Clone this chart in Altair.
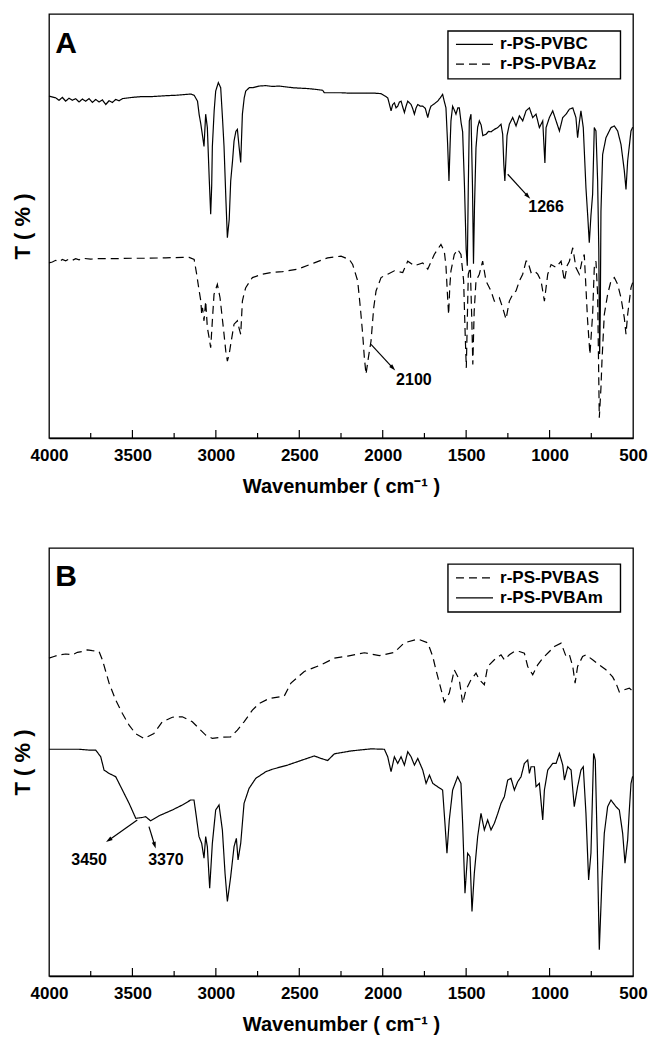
import altair as alt
import pandas as pd

# ---------------- Panel A : r-PS-PVBC (solid) ----------------
PVBC_WN = [4000, 3960, 3940, 3920, 3900, 3880, 3860, 3840, 3820, 3800, 3780, 3760, 3740, 3720,
           3700, 3680, 3660, 3640, 3620, 3600, 3580, 3560, 3500, 3440, 3380, 3300, 3240, 3180,
           3150, 3130, 3110, 3100, 3090, 3080, 3071, 3061, 3051, 3040, 3031, 3025, 3021, 3010,
           3001, 2990, 2985, 2971, 2960, 2951, 2940, 2931, 2920, 2911, 2900, 2891, 2880, 2871,
           2861, 2851, 2841, 2830, 2821, 2800, 2781, 2740, 2700, 2660, 2622, 2580, 2540, 2500,
           2450, 2400, 2360, 2350, 2300, 2250, 2200, 2150, 2100, 2050, 2010, 1990, 1970, 1960,
           1950, 1940, 1930, 1920, 1910, 1900, 1890, 1880, 1870, 1860, 1850, 1840, 1830, 1820,
           1810, 1800, 1790, 1775, 1760, 1745, 1730, 1720, 1711, 1690, 1671, 1655, 1641, 1630,
           1621, 1611, 1603, 1596, 1591, 1581, 1570, 1561, 1550, 1541, 1530, 1521, 1510, 1500,
           1493, 1487, 1481, 1471, 1462, 1456, 1450, 1441, 1431, 1421, 1410, 1400, 1381, 1366,
           1351, 1330, 1311, 1291, 1281, 1274, 1268, 1262, 1255, 1241, 1221, 1201, 1181, 1161,
           1141, 1121, 1101, 1081, 1061, 1041, 1034, 1028, 1021, 1001, 981, 961, 941, 921, 901,
           881, 861, 842, 832, 822, 812, 798, 782, 770, 762, 752, 742, 732, 722, 712, 705, 700,
           696, 692, 682, 662, 632, 612, 592, 572, 552, 542, 532, 512, 502]
PVBC_T = [81.4, 81.0, 80.4, 81.1, 80.2, 80.9, 80.4, 80.8, 80.0, 80.7, 80.2, 80.8, 79.9, 80.6,
          80.0, 80.5, 79.4, 80.3, 79.9, 80.6, 80.3, 80.8, 81.1, 81.3, 81.3, 81.5, 81.6, 81.8,
          81.9, 81.6, 80.2, 77.0, 74.7, 72.0, 69.4, 77.1, 73.9, 62.0, 53.3, 60.0, 69.4, 78.0,
          82.6, 84.0, 84.6, 83.4, 76.0, 69.4, 57.0, 47.7, 52.0, 61.2, 66.0, 70.7, 73.0, 73.5,
          69.4, 65.6, 77.1, 81.0, 82.6, 83.4, 83.4, 83.8, 83.9, 83.7, 83.8, 83.6, 83.4, 83.3,
          83.2, 83.0, 82.8, 82.2, 82.2, 82.2, 82.1, 82.1, 82.1, 82.1, 82.0, 81.5, 81.0, 79.5,
          77.9, 79.4, 79.8, 78.6, 79.0, 80.0, 80.2, 78.8, 77.5, 79.0, 80.2, 79.8, 79.4, 78.4,
          77.1, 78.6, 79.4, 79.0, 79.0, 78.5, 76.3, 78.0, 79.0, 79.6, 80.2, 81.0, 81.8, 80.0,
          78.6, 70.0, 61.2, 70.0, 75.5, 79.0, 78.0, 77.1, 78.6, 78.6, 75.0, 72.9, 60.0, 45.0,
          41.0, 60.0, 75.5, 77.1, 60.0, 41.5, 55.0, 69.1, 74.0, 75.5, 74.5, 72.0, 72.3, 73.0,
          72.9, 73.5, 73.9, 74.7, 72.3, 65.0, 61.2, 66.0, 72.0, 74.7, 76.3, 74.3, 76.7, 75.5,
          77.9, 78.6, 76.3, 77.1, 73.9, 75.5, 70.0, 65.5, 73.9, 76.3, 77.9, 75.5, 73.1, 76.3, 77.1,
          78.3, 78.6, 76.3, 71.5, 75.0, 77.9, 73.9, 59.6, 52.0, 46.5, 53.0, 58.0, 73.9, 73.1, 61.2,
          45.0, 20.0, 30.0, 54.0, 67.5, 71.5, 73.9, 74.3, 73.1, 69.9, 63.6, 59.2, 66.0, 73.1, 74.0]

# ---------------- Panel A : r-PS-PVBAz (dashed) ----------------
PVBAZ_WN = [4000, 3980, 3960, 3940, 3920, 3900, 3880, 3860, 3840, 3820, 3800, 3750, 3700, 3600,
            3500, 3400, 3300, 3200, 3160, 3130, 3115, 3100, 3090, 3085, 3080, 3071, 3061, 3051,
            3041, 3031, 3021, 3011, 2991, 2975, 2960, 2951, 2940, 2931, 2920, 2911, 2891, 2871,
            2860, 2851, 2841, 2830, 2821, 2781, 2720, 2670, 2600, 2510, 2410, 2330, 2250, 2200,
            2180, 2150, 2134, 2120, 2110, 2100, 2086, 2070, 2054, 2040, 2010, 1970, 1930, 1880,
            1850, 1810, 1760, 1730, 1691, 1651, 1631, 1621, 1611, 1605, 1598, 1591, 1571, 1551,
            1531, 1515, 1506, 1499, 1492, 1487, 1475, 1466, 1460, 1452, 1441, 1421, 1401, 1381,
            1351, 1331, 1301, 1281, 1261, 1241, 1221, 1201, 1181, 1161, 1141, 1131, 1111, 1091,
            1071, 1051, 1031, 1011, 991, 961, 931, 911, 895, 881, 861, 842, 822, 806, 792, 782,
            772, 758, 742, 732, 722, 712, 702, 692, 686, 672, 652, 632, 612, 592, 572, 552, 542,
            532, 512, 502]
PVBAZ_T = [41.7, 41.9, 42.3, 42.0, 42.5, 42.2, 42.6, 42.3, 42.7, 42.4, 42.8, 42.6, 42.7, 42.7,
           42.8, 42.8, 42.9, 43.0, 43.0, 42.5, 39.0, 35.0, 32.6, 29.4, 31.0, 27.9, 32.6, 26.3,
           24.0, 21.5, 27.9, 34.2, 36.6, 33.4, 28.0, 24.7, 20.5, 18.3, 20.0, 22.3, 27.1, 27.9,
           26.0, 24.7, 32.6, 34.5, 35.8, 38.2, 39.0, 39.4, 39.6, 40.2, 41.7, 42.9, 43.3, 42.5,
           41.3, 37.4, 31.0, 24.7, 19.1, 15.2, 19.1, 23.1, 31.0, 35.0, 38.2, 39.0, 39.8, 39.4,
           42.1, 41.0, 41.7, 40.2, 43.7, 46.1, 44.5, 41.0, 33.4, 29.4, 36.0, 39.8, 43.7, 44.9,
           43.7, 37.4, 25.0, 16.7, 30.0, 39.0, 40.6, 28.0, 17.5, 30.0, 37.4, 39.0, 42.1, 37.4,
           35.0, 32.6, 33.4, 31.0, 28.3, 32.6, 34.2, 35.0, 37.4, 39.0, 42.1, 42.1, 39.4, 39.8,
           39.0, 37.4, 32.6, 39.0, 41.3, 40.6, 42.1, 37.4, 41.0, 42.1, 45.3, 40.6, 39.0, 42.1,
           43.7, 35.8, 27.9, 19.9, 29.4, 40.6, 42.1, 34.2, 4.8, 12.0, 18.3, 29.4, 34.2, 37.4,
           38.2, 36.6, 33.4, 28.6, 24.7, 29.4, 35.8, 37.0]

# ---------------- Panel B : r-PS-PVBAS (dashed) ----------------
PVBAS_WN = [4000, 3970, 3940, 3900, 3860, 3830, 3800, 3770, 3740, 3700, 3680, 3660, 3640, 3600,
            3560, 3520, 3480, 3430, 3371, 3321, 3261, 3201, 3141, 3101, 3061, 3021, 2961, 2911,
            2871, 2831, 2781, 2741, 2681, 2590, 2550, 2470, 2370, 2290, 2210, 2110, 2020, 1930,
            1870, 1790, 1730, 1700, 1681, 1655, 1631, 1601, 1571, 1541, 1521, 1501, 1471, 1441,
            1421, 1391, 1371, 1331, 1291, 1271, 1241, 1211, 1181, 1151, 1131, 1101, 1071, 1041,
            1001, 971, 931, 901, 881, 861, 847, 832, 802, 782, 742, 702, 662, 622, 602, 582,
            552, 522, 502]
PVBAS_T = [76.4, 76.8, 77.2, 77.4, 77.2, 77.8, 78.0, 78.4, 78.2, 78.0, 76.0, 73.2, 70.4, 66.3,
           63.1, 60.3, 58.2, 57.1, 58.3, 61.1, 62.2, 62.3, 61.1, 59.5, 57.9, 57.1, 57.4, 57.5,
           59.1, 61.1, 63.9, 65.5, 66.7, 67.3, 70.4, 73.2, 74.8, 76.4, 76.9, 77.7, 77.0, 77.8,
           80.1, 81.0, 80.1, 76.8, 73.6, 69.6, 65.9, 68.0, 73.6, 71.2, 65.5, 68.8, 71.2, 72.8,
           71.2, 70.0, 74.4, 76.0, 77.2, 76.0, 77.2, 78.0, 78.0, 77.6, 74.4, 72.4, 74.8, 76.4,
           78.0, 79.2, 80.0, 76.8, 77.2, 74.4, 70.4, 74.4, 76.8, 77.2, 76.0, 74.8, 73.6, 71.9,
           70.4, 68.3, 68.8, 69.2, 68.5]

# ---------------- Panel B : r-PS-PVBAm (solid) ----------------
PVBAM_WN = [4000, 3900, 3820, 3760, 3720, 3690, 3670, 3640, 3600, 3560, 3520, 3480, 3441, 3421,
            3391, 3341, 3261, 3201, 3151, 3131, 3117, 3101, 3085, 3071, 3061, 3051, 3037, 3021,
            3001, 2981, 2961, 2945, 2931, 2911, 2891, 2877, 2867, 2851, 2831, 2801, 2761, 2701,
            2661, 2570, 2490, 2410, 2370, 2330, 2290, 2190, 2070, 1990, 1970, 1950, 1930, 1910,
            1890, 1870, 1850, 1830, 1810, 1790, 1760, 1740, 1720, 1700, 1671, 1641, 1627, 1615,
            1601, 1581, 1551, 1531, 1521, 1507, 1491, 1477, 1465, 1451, 1431, 1411, 1391, 1371,
            1351, 1331, 1311, 1291, 1271, 1251, 1231, 1211, 1191, 1171, 1151, 1131, 1121, 1111,
            1091, 1081, 1061, 1041, 1031, 1011, 981, 961, 941, 921, 911, 891, 871, 852, 832, 812,
            798, 782, 766, 752, 736, 726, 714, 702, 686, 672, 652, 632, 602, 582, 562, 548, 532,
            522, 512, 502]
PVBAM_T = [54.5, 54.5, 54.5, 54.3, 54.3, 52.7, 49.5, 48.7, 47.9, 44.7, 41.5, 37.9, 38.1, 38.3,
           37.3, 38.5, 39.9, 41.1, 42.3, 42.3, 38.3, 33.5, 31.9, 28.3, 33.5, 31.1, 21.1, 31.9,
           39.9, 41.1, 35.1, 24.7, 17.9, 23.9, 31.1, 33.1, 27.9, 31.9, 41.5, 45.1, 47.5, 49.1,
           49.7, 50.7, 51.8, 52.9, 52.3, 51.8, 53.4, 54.1, 54.6, 54.5, 52.7, 49.1, 52.7, 51.1,
           52.7, 50.7, 53.9, 52.7, 50.7, 52.3, 49.5, 46.3, 48.3, 46.3, 45.5, 44.7, 36.7, 29.5,
           37.5, 44.7, 47.9, 46.3, 36.7, 19.9, 29.5, 28.7, 15.5, 24.7, 33.5, 39.1, 35.1, 37.5,
           35.1, 36.7, 39.0, 41.5, 43.1, 47.1, 47.5, 44.7, 46.7, 47.9, 51.1, 51.9, 48.7, 50.3,
           50.3, 45.5, 46.3, 37.5, 44.7, 49.5, 51.1, 51.1, 53.5, 50.7, 47.1, 50.3, 49.5, 40.7,
           45.5, 49.5, 50.3, 39.1, 23.1, 29.5, 53.5, 51.9, 31.1, 6.3, 23.1, 34.3, 40.7, 42.3,
           40.7, 39.9, 34.3, 27.1, 32.7, 39.9, 46.3, 48.0]

# ---------------- axis ticks ----------------
TICK_LABELS = [4000, 3500, 3000, 2500, 2000, 1500, 1000, 500]
MAJOR_TICKS = [3500, 3000, 2500, 2000, 1500, 1000]
MINOR_TICKS = [3750, 3250, 2750, 2250, 1750, 1250, 750]

# ---------------- legends (drawn inside the frame) ----------------
A_NAMES = ["r-PS-PVBC", "r-PS-PVBAz"]
B_NAMES = ["r-PS-PVBAS", "r-PS-PVBAm"]
LEG_BOX_WN = [1609, 575]          # left / right edge of the legend box
LEG_LINE_WN = [1561, 1339]        # legend line sample start / end
LEG_TEXT_WN = 1297                # legend label start
A_LEG_BOX_T = [96.9, 85.5]
A_LEG_ROW_T = [93.7, 89.0]
B_LEG_BOX_T = [99.0, 87.5]
B_LEG_ROW_T = [95.7, 90.9]

# ---------------- annotations ----------------
A_LABELS = ["1266", "2100"]
A_LABEL_WN = [1021, 1813]
A_LABEL_T = [55.0, 13.8]
A_ARROW_WN = [1251, 2070]
A_ARROW_T = [62.8, 22.3]
A_ARROW_WN2 = [1131, 1940]
A_ARROW_T2 = [57.6, 16.7]
A_ARROW_ANG = [137, 137]

B_LABELS = ["3450", "3370"]
B_LABEL_WN = [3760, 3299]
B_LABEL_T = [27.9, 27.9]
B_ARROW_WN = [3471, 3401]
B_ARROW_T = [37.5, 35.9]
B_ARROW_WN2 = [3640, 3367]
B_ARROW_T2 = [32.7, 31.5]
B_ARROW_ANG = [235, 163]

FONT = "Liberation Sans"
W = 584
ARROW_HEAD = "M0,-1L0.55,0.8L-0.55,0.8Z"
SOLID = [1, 0]
DASH = [8, 5]


def panel(series, names, dashes, letter, letter_wn, letter_t, labels, arrows, height,
          ymax, leg_box_t, leg_row_t):
    df = pd.concat([pd.DataFrame({"wn": wn, "T": t, "series": nm}) for nm, wn, t in series],
                   ignore_index=True)
    xs = alt.Scale(domain=[500, 4000], reverse=True, nice=False, zero=False)
    ys = alt.Scale(domain=[0, ymax], nice=False, zero=False)
    x = alt.X("wn:Q", scale=xs, axis=alt.Axis(
        values=TICK_LABELS, format="d", title="Wavenumber ( cm\u207b\u00b9 )",
        ticks=False, tickSize=0, grid=False, labelFlush=False, labelOverlap=False))
    y = alt.Y("T:Q", scale=ys, axis=alt.Axis(
        title="T ( % )", labels=False, ticks=False, tickSize=0, grid=False, domain=False,
        minExtent=0, maxExtent=0, titlePadding=15, titleFontSize=22))
    dash = alt.StrokeDash("series:N", scale=alt.Scale(domain=names, range=dashes),
                          legend=None)

    lines = alt.Chart(df).mark_line(color="black", strokeWidth=1.2).encode(
        x=x, y=y, strokeDash=dash)

    major = alt.Chart(pd.DataFrame({"wn": MAJOR_TICKS})).mark_rule(
        color="black", strokeWidth=1.2).encode(
        x="wn:Q", y=alt.value(height), y2=alt.value(height - 8))
    minor = alt.Chart(pd.DataFrame({"wn": MINOR_TICKS})).mark_rule(
        color="black", strokeWidth=1.2).encode(
        x="wn:Q", y=alt.value(height), y2=alt.value(height - 5))

    lbl_text, lbl_wn, lbl_t = labels
    txt = alt.Chart(pd.DataFrame({"wn": lbl_wn, "T": lbl_t, "label": lbl_text})).mark_text(
        font=FONT, fontSize=16, fontWeight="bold", color="black").encode(
        x="wn:Q", y="T:Q", text="label:N")

    a_wn, a_t, a_wn2, a_t2, a_ang = arrows
    shafts = alt.Chart(pd.DataFrame({"wn": a_wn, "T": a_t, "wn2": a_wn2, "T2": a_t2})
                       ).mark_rule(color="black", strokeWidth=1.2).encode(
        x="wn:Q", y="T:Q", x2="wn2:Q", y2="T2:Q")
    heads = alt.Chart(pd.DataFrame({"wn": a_wn2, "T": a_t2, "ang": a_ang})).mark_point(
        shape=ARROW_HEAD, filled=True, size=55, color="black", opacity=1).encode(
        x="wn:Q", y="T:Q", angle=alt.Angle("ang:Q", scale=None))

    let = alt.Chart(pd.DataFrame({"wn": [letter_wn], "T": [letter_t], "label": [letter]})
                    ).mark_text(font=FONT, fontSize=30, fontWeight="bold", color="black"
                                ).encode(x="wn:Q", y="T:Q", text="label:N")

    # legend box, samples and labels
    box = alt.Chart(pd.DataFrame({"wn": [LEG_BOX_WN[0]], "wn2": [LEG_BOX_WN[1]],
                                  "T": [leg_box_t[0]], "T2": [leg_box_t[1]]})).mark_rect(
        fill="white", stroke="black", strokeWidth=1.4).encode(
        x="wn:Q", x2="wn2:Q", y="T:Q", y2="T2:Q")
    leg_df = pd.DataFrame({"wn": [LEG_LINE_WN[0]] * 2, "wn2": [LEG_LINE_WN[1]] * 2,
                           "T": leg_row_t, "series": names,
                           "twn": [LEG_TEXT_WN] * 2})
    samples = alt.Chart(leg_df).mark_rule(color="black", strokeWidth=1.3).encode(
        x="wn:Q", x2="wn2:Q", y="T:Q", strokeDash=dash)
    leg_txt = alt.Chart(leg_df).mark_text(
        font=FONT, fontSize=17, fontWeight="bold", color="black", align="left",
        baseline="middle").encode(x="twn:Q", y="T:Q", text="series:N")

    return alt.layer(lines, major, minor, shafts, heads, txt, let, box, samples,
                     leg_txt).properties(width=W, height=height)


panel_a = panel(
    [("r-PS-PVBC", PVBC_WN, PVBC_T), ("r-PS-PVBAz", PVBAZ_WN, PVBAZ_T)],
    A_NAMES, [SOLID, DASH], "A", 3898, 93.7,
    (A_LABELS, A_LABEL_WN, A_LABEL_T),
    (A_ARROW_WN, A_ARROW_T, A_ARROW_WN2, A_ARROW_T2, A_ARROW_ANG), 424, 100.95,
    A_LEG_BOX_T, A_LEG_ROW_T)

panel_b = panel(
    [("r-PS-PVBAS", PVBAS_WN, PVBAS_T), ("r-PS-PVBAm", PVBAM_WN, PVBAM_T)],
    B_NAMES, [DASH, SOLID], "B", 3898, 95.9,
    (B_LABELS, B_LABEL_WN, B_LABEL_T),
    (B_ARROW_WN, B_ARROW_T, B_ARROW_WN2, B_ARROW_T2, B_ARROW_ANG), 428, 102.88,
    B_LEG_BOX_T, B_LEG_ROW_T)

chart = alt.vconcat(panel_a, panel_b, spacing=50).resolve_scale(
    strokeDash="independent", y="independent").configure(
    padding={"left": 10, "top": 13, "right": 0, "bottom": 0},
    background="white").configure_view(
    stroke="black", strokeWidth=1.3).configure_axis(
    domainColor="black", domainWidth=1.3, labelColor="black", titleColor="black",
    labelFont=FONT, labelFontSize=17, labelFontWeight="bold", labelPadding=9,
    titleFont=FONT, titleFontSize=20, titleFontWeight="bold", titlePadding=13)

chart.save("out.html", embed_options={"renderer": "svg", "actions": False})
